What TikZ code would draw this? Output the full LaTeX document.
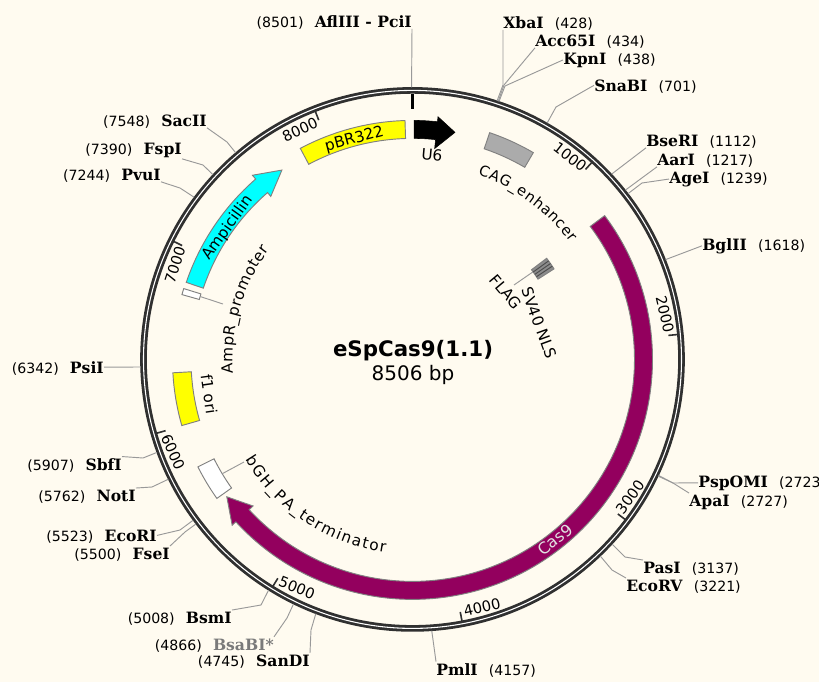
\documentclass[tikz,border=0pt]{standalone}
\usepackage{fontspec}
\setmainfont{DejaVu Sans}
\newfontfamily\enzfont{DejaVu Serif}
\definecolor{paper}{HTML}{FFFBF0}
\definecolor{cas}{HTML}{93005E}
\definecolor{ringdark}{HTML}{303030}
\definecolor{leadgrey}{HTML}{999999}
\definecolor{edgegrey}{HTML}{808080}
\definecolor{featyellow}{HTML}{FFFF00}
\definecolor{featcyan}{HTML}{00FFFF}
\usetikzlibrary{positioning, decorations.text}

\begin{document}
\begin{tikzpicture}[
    x=0.75pt, y=-0.75pt,
    enz/.style={inner ysep=1pt, inner xsep=0pt, font=\enzfont\bfseries\fontsize{11.7}{13}\selectfont},
    enzr/.style={enz, anchor=base west},
    enzl/.style={enz, anchor=base east},
    bpnum/.style={inner ysep=1pt, inner xsep=0pt, font=\fontsize{10.6}{12}\selectfont},
    lead/.style={leadgrey, line width=0.7pt},
    tickline/.style={ringdark, line width=1.2pt},
    ticklab/.style={inner sep=0pt, font=\fontsize{11}{13}\selectfont},
    featlab/.style={inner sep=0pt, font=\fontsize{11.5}{13}\selectfont},
    feat/.style={draw=edgegrey, line width=0.7pt},
  ]
    \useasboundingbox (0,0) rectangle (819,682);
    \fill[paper] (0,0) rectangle (819,682);

    \begin{scope}[shift={(412.5,359.4)}, y=0.75pt]
      % backbone
      \draw[ringdark, line width=5pt] (0,0) circle (269);
      \draw[white, line width=0.8pt] (0,0) circle (269);
      \draw[black, line width=2.4pt] (90:265) -- (90:250);

      % scale
      \draw[tickline] (47.68:257) -- (47.68:267);
      \draw[tickline] (5.36:257) -- (5.36:267);
      \draw[tickline] (-36.97:257) -- (-36.97:267);
      \draw[tickline] (-79.29:257) -- (-79.29:267);
      \draw[tickline] (-121.6:257) -- (-121.6:267);
      \draw[tickline] (-163.9:257) -- (-163.9:267);
      \draw[tickline] (-206.3:257) -- (-206.3:267);
      \draw[tickline] (-248.6:257) -- (-248.6:267);

      % features
      \draw[feat, fill=featyellow] (91.8:239) arc (91.8:118:239) -- (118:221) arc (118:91.8:221) -- cycle;
      \draw[feat, fill=featcyan] (161.2:239) arc (161.2:131:239) -- (131:244) -- (124.6:230) -- (131:216)
        -- (131:221) arc (131:161.2:221) -- cycle;
      \draw[feat, fill=white] (162.8:239.5) arc (162.8:164.3:239.5) -- (164.3:221.5) arc (164.3:162.8:221.5) -- cycle;
      \draw[feat, fill=featyellow] (183.2:240) arc (183.2:196:240) -- (196:221.5) arc (196:183.2:221.5) -- cycle;
      \draw[feat, fill=white] (206.6:240) arc (206.6:215.4:240) -- (215.4:222) arc (215.4:206.6:222) -- cycle;
      \draw[feat, fill=black!33] (59.7:239.5) arc (59.7:71.2:239.5) -- (71.2:222.5) arc (71.2:59.7:222.5) -- cycle;
      \draw[feat, fill=cas] (36.8:240) arc (36.8:-137.4:240) -- (-137.4:245) -- (-143.5:231) -- (-137.4:216.6)
        -- (-137.4:222) arc (-137.4:36.8:222) -- cycle;
      \draw[black, fill=black, line width=0.4pt] (89.6:239) arc (89.6:84:239) -- (84:244) -- (79.4:231) -- (84:212)
        -- (84:221) arc (84:89.6:221) -- cycle;
      \draw[feat, fill=black!45] (32.6:168) arc (32.6:37:168) -- (37:149) arc (37:32.6:149) -- cycle;
      \draw[black!70, line width=0.7pt] (33.7:149) -- (33.7:168);
      \draw[black!70, line width=0.7pt] (34.8:149) -- (34.8:168);
      \draw[black!70, line width=0.7pt] (35.9:149) -- (35.9:168);

      % names inside the bands
      \node[featlab, rotate=15] (pbr) at (104.8:227.5) {pBR322};
      \node[featlab, rotate=54.5] (amp) at (144.5:226.5) {Ampicillin};
      \node[featlab, rotate=38.3, font=\fontsize{12}{13}\selectfont, text=white!88!black] (cas9) at (-51.7:230) {Cas9};

      % long names on the arcs
      \path[decorate, decoration={text along path, text={|\fontsize{11}{13}\selectfont|CAG{\_}enhancer}, text align={fit to path}}]
        (70.5:196) arc (70.5:36.5:196);
      \path[decorate, decoration={text along path, text={|\fontsize{11.5}{13}\selectfont|AmpR{\_}promoter}, text align={fit to path}}]
        (184.5:180) arc (184.5:142.5:180);
      \path[decorate, decoration={text along path, text={|\fontsize{11.5}{13}\selectfont|bGH{\_}PA{\_}terminator}, text align={fit to path}}]
        (-149:195) arc (-149:-98:195);

      % cut sites on the ring
      \coordinate (aflt) at (90.2:272);
      \coordinate (xbat) at (71.89:272);
      \coordinate (acct) at (71.63:272);
      \coordinate (kpnt) at (71.46:272);
      \coordinate (snat) at (60.33:272);
      \coordinate (bset) at (42.94:272);
      \coordinate (aart) at (38.49:272);
      \coordinate (aget) at (37.56:272);
      \coordinate (bglt) at (21.52:272);
      \coordinate (pspt) at (-25.24:272);
      \coordinate (apat) at (-25.42:272);
      \coordinate (past) at (-42.77:272);
      \coordinate (ecvt) at (-46.32:272);
      \coordinate (pmlt) at (-85.94:272);
      \coordinate (sant) at (-110.82:272);
      \coordinate (bsat) at (-115.94:272);
      \coordinate (bsmt) at (-121.95:272);
      \coordinate (fset) at (-142.77:272);
      \coordinate (ecrt) at (-143.75:272);
      \coordinate (nott) at (-153.86:272);
      \coordinate (sbft) at (-160:272);
      \coordinate (psit) at (-178.4:272);
      \coordinate (pvut) at (-216.6:272);
      \coordinate (fspt) at (-222.8:272);
      \coordinate (sact) at (-229.45:272);
      \coordinate (ampb) at (163.5:221.5);
      \coordinate (bghb) at (211:222);
      \coordinate (nlsb) at (36:149);
    \end{scope}

    % scale numbers
    \node[ticklab, rotate=-38] (k1) at (570,157) {1000};
    \node[ticklab, rotate=-77] (k2) at (665,314) {2000};
    \node[ticklab, rotate=54] (k3) at (630,497) {3000};
    \node[ticklab, rotate=13] (k4) at (482,607) {4000};
    \node[ticklab, rotate=-22] (k5) at (297,588) {5000};
    \node[ticklab, rotate=-66] (k6) at (173,452) {6000};
    \node[ticklab, rotate=72] (k7) at (175,265) {7000};
    \node[ticklab, rotate=25] (k8) at (300,130) {8000};

    % feature names
    \node[featlab, rotate=-5] (u6) at (432,155) {U6};
    \node[featlab, rotate=-82] (f1) at (209,394) {f1 ori};
    \node[featlab, rotate=-70] (sv40) at (539,323) {SV40 NLS};
    \node[featlab, rotate=-50] (flag) at (506,292) {FLAG};
    \coordinate (amplab) at (223,304);
    \coordinate (bghlab) at (244,462);
    \coordinate (flaglab) at (514,285);
    \draw[lead] (ampb) -- (amplab);
    \draw[lead] (bghb) -- (bghlab);
    \draw[lead] (nlsb) -- (flaglab);

    % centre title
    \node[inner sep=0pt, font=\bfseries\fontsize{16}{18}\selectfont] (title) at (413,351) {eSpCas9(1.1)};
    \node[inner sep=0pt, font=\fontsize{15}{18}\selectfont] (size) at (413,375) {8506 bp};

    % enzymes, right side
    \node[enzr] (xba) at (503,28) {XbaI};
    \node[bpnum, base right=8pt of xba] (xbap) {(428)};
    \node[enzr] (acc) at (535,46) {Acc65I};
    \node[bpnum, base right=8pt of acc] (accp) {(434)};
    \node[enzr] (kpn) at (563,64) {KpnI};
    \node[bpnum, base right=8pt of kpn] (kpnp) {(438)};
    \node[enzr] (sna) at (594,91) {SnaBI};
    \node[bpnum, base right=8pt of sna] (snap) {(701)};
    \node[enzr] (bse) at (646,146) {BseRI};
    \node[bpnum, base right=8pt of bse] (bsep) {(1112)};
    \node[enzr] (aar) at (657,165) {AarI};
    \node[bpnum, base right=8pt of aar] (aarp) {(1217)};
    \node[enzr] (age) at (669,183) {AgeI};
    \node[bpnum, base right=8pt of age] (agep) {(1239)};
    \node[enzr] (bgl) at (702,250) {BglII};
    \node[bpnum, base right=8pt of bgl] (bglp) {(1618)};
    \node[enzr] (psp) at (698,487) {PspOMI};
    \node[bpnum, base right=8pt of psp] (pspp) {(2723)};
    \node[enzr] (apa) at (689,506) {ApaI};
    \node[bpnum, base right=8pt of apa] (apap) {(2727)};
    \node[enzr] (pas) at (643,573) {PasI};
    \node[bpnum, base right=8pt of pas] (pasp) {(3137)};
    \node[enzr] (ecv) at (626,591) {EcoRV};
    \node[bpnum, base right=8pt of ecv] (ecvp) {(3221)};
    \node[enzr] (pml) at (436,675) {PmlI};
    \node[bpnum, base right=8pt of pml] (pmlp) {(4157)};

    % enzymes, left side
    \node[enzl] (afl) at (412,27) {AflIII - PciI};
    \node[bpnum, base left=8pt of afl] (aflp) {(8501)};
    \node[enzl] (san) at (310,666) {SanDI};
    \node[bpnum, base left=8pt of san] (sanp) {(4745)};
    \node[enzl, text=leadgrey!80!black] (bsa) at (274,650) {BsaBI*};
    \node[bpnum, base left=8pt of bsa] (bsap) {(4866)};
    \node[enzl] (bsm) at (232,623) {BsmI};
    \node[bpnum, base left=8pt of bsm] (bsmp) {(5008)};
    \node[enzl] (fse) at (170,559) {FseI};
    \node[bpnum, base left=8pt of fse] (fsep) {(5500)};
    \node[enzl] (ecr) at (157,541) {EcoRI};
    \node[bpnum, base left=8pt of ecr] (ecrp) {(5523)};
    \node[enzl] (not) at (136,501) {NotI};
    \node[bpnum, base left=8pt of not] (notp) {(5762)};
    \node[enzl] (sbf) at (122,470) {SbfI};
    \node[bpnum, base left=8pt of sbf] (sbfp) {(5907)};
    \node[enzl] (psi) at (104,373) {PsiI};
    \node[bpnum, base left=8pt of psi] (psip) {(6342)};
    \node[enzl] (pvu) at (161,180) {PvuI};
    \node[bpnum, base left=8pt of pvu] (pvup) {(7244)};
    \node[enzl] (fsp) at (182,154) {FspI};
    \node[bpnum, base left=8pt of fsp] (fspp) {(7390)};
    \node[enzl] (sac) at (207,126) {SacII};
    \node[bpnum, base left=8pt of sac] (sacp) {(7548)};

    % leaders
    \draw[lead] (aflt) -- (afl.south east);
    \draw[lead] (xbat) -- (503,85) -- (xba.south west);
    \draw[lead] (acct) -- (504,85) -- (acc.south west);
    \draw[lead] (kpnt) -- (505,86) -- (kpn.west);
    \draw[lead] (snat) -- (556,107) -- (sna.west);
    \draw[lead] (bset) -- (bse.south west);
    \draw[lead] (aart) -- (aar.south west);
    \draw[lead] (aget) -- (642,183) -- (age.west);
    \draw[lead] (bglt) -- (bgl.west);
    \draw[lead] (pspt) -- (673,483) -- (psp.west);
    \draw[lead] (apat) -- (673,483) -- (apa.north west);
    \draw[lead] (past) -- (625,557) -- (pas.north west);
    \draw[lead] (ecvt) -- (612,570) -- (ecv.north west);
    \draw[lead] (pmlt) -- (pml.north west);
    \draw[lead] (sant) -- (311,630) -- (san.north east);
    \draw[lead] (bsat) -- (287,618) -- (bsa.north east);
    \draw[lead] (bsmt) -- (261,605) -- (bsm.north east);
    \draw[lead] (fset) -- (185,532) -- (fse.north east);
    \draw[lead] (ecrt) -- (180,530) -- (ecr.east);
    \draw[lead] (nott) -- (152,487) -- (not.north east);
    \draw[lead] (sbft) -- (143,458) -- (sbf.north east);
    \draw[lead] (psit) -- (psi.east);
    \draw[lead] (pvut) -- (180,188) -- (pvu.south east);
    \draw[lead] (fspt) -- (203,165) -- (fsp.south east);
    \draw[lead] (sact) -- (227,142) -- (sac.south east);
\end{tikzpicture}
\end{document}
